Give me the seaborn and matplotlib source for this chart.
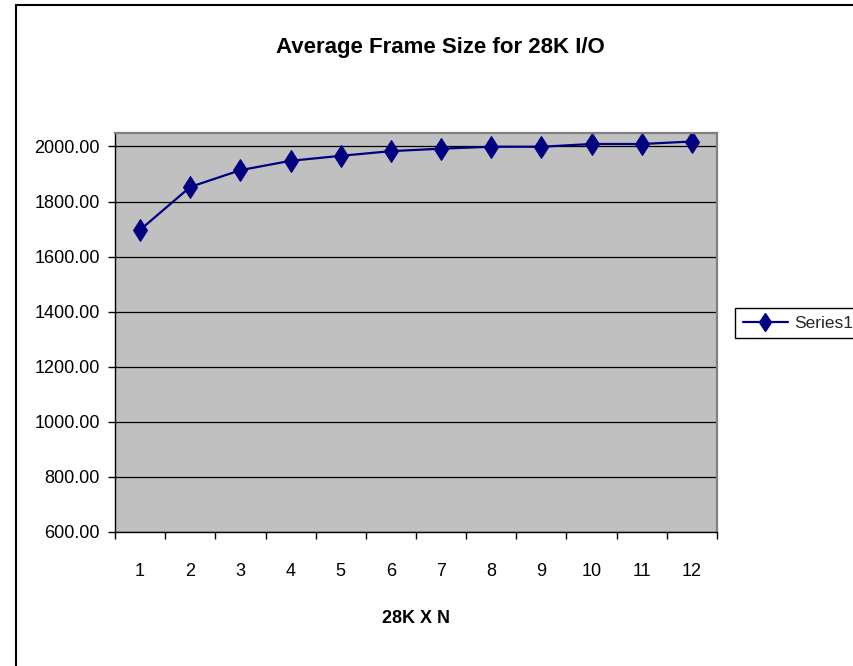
import matplotlib
matplotlib.use("Agg")
import matplotlib.pyplot as plt
import seaborn as sns
import pandas as pd
import numpy as np
from matplotlib.patches import Rectangle
from matplotlib.lines import Line2D

# Data
n_values = [1, 2, 3, 4, 5, 6, 7, 8, 9, 10, 11, 12]
frame_size = [1697, 1853, 1914, 1948, 1966, 1983, 1992, 1999, 1999, 2009, 2009, 2018]
y_ticks = [600, 800, 1000, 1200, 1400, 1600, 1800, 2000]
title = "Average Frame Size for 28K I/O"
x_label = "28K X N"
series_name = "Series1"

df = pd.DataFrame({"N": n_values, "size": frame_size})

sns.set_theme(style="white")
plt.rcParams['font.family'] = ['Liberation Sans', 'DejaVu Sans']

W, H = 854, 666
fig = plt.figure(figsize=(W / 100, H / 100), dpi=100)
fig.patch.set_facecolor("white")

# outer chart border (starts at x=16, y=5, extends past the right/bottom)
fig.patches.append(Rectangle((16 / W, -0.05), 1.2, 1 - 5 / H + 0.05, transform=fig.transFigure,
                             fill=False, edgecolor="black", linewidth=1.5))

ax = fig.add_axes([115 / W, 1 - 532 / H, (717 - 115) / W, (532 - 132.7) / H])
ax.set_facecolor("#c0c0c0")

sns.lineplot(data=df, x="N", y="size", ax=ax, color="#000080", linewidth=1.6,
             marker="d", markersize=11.5, markeredgecolor="#000080", markerfacecolor="#000080",
             label=series_name, legend=False)

ax.set_xlim(0.5, 12.5)
ax.set_ylim(600, 2050)
ax.set_yticks(y_ticks)
ax.set_yticklabels([f"{v:.2f}" for v in y_ticks])
ax.set_xticks(n_values)
ax.set_xticklabels([str(v) for v in n_values])
ax.set_xticks(np.arange(0.5, 12.6, 1.0), minor=True)
ax.yaxis.grid(True, color="black", linewidth=0.9)
ax.set_axisbelow(True)

for s in ["top", "right"]:
    ax.spines[s].set_color("#808080")
    ax.spines[s].set_linewidth(1.6)
for s in ["left", "bottom"]:
    ax.spines[s].set_color("black")
    ax.spines[s].set_linewidth(1.0)

ax.tick_params(axis="y", which="major", left=True, length=5, width=1, color="black",
               direction="out", pad=6, labelsize=13, labelcolor="black")
ax.tick_params(axis="x", which="major", bottom=False, length=0, pad=22,
               labelsize=13, labelcolor="black")
ax.tick_params(axis="x", which="minor", bottom=True, length=5, width=1, color="black",
               direction="out")

ax.set_xlabel(x_label, fontsize=13, fontweight="bold", labelpad=22, color="black")
ax.set_ylabel("")
fig.text(440 / W, 1 - 47 / H, title, fontsize=16, fontweight="bold", color="black",
         ha="center", va="center")

handle = Line2D([], [], color="#000080", linewidth=1.6, marker="d", markersize=9.5,
                markerfacecolor="#000080", markeredgecolor="#000080")
leg = fig.legend([handle], [series_name], loc="upper left",
                 bbox_to_anchor=(735 / W, 1 - 307.7 / H), fontsize=12.5,
                 frameon=True, fancybox=False, edgecolor="black", framealpha=1,
                 handlelength=2.6, borderpad=0.45, borderaxespad=0, handletextpad=0.35)
leg.get_frame().set_linewidth(1.0)

fig.savefig("out.png", dpi=100, facecolor="white")
